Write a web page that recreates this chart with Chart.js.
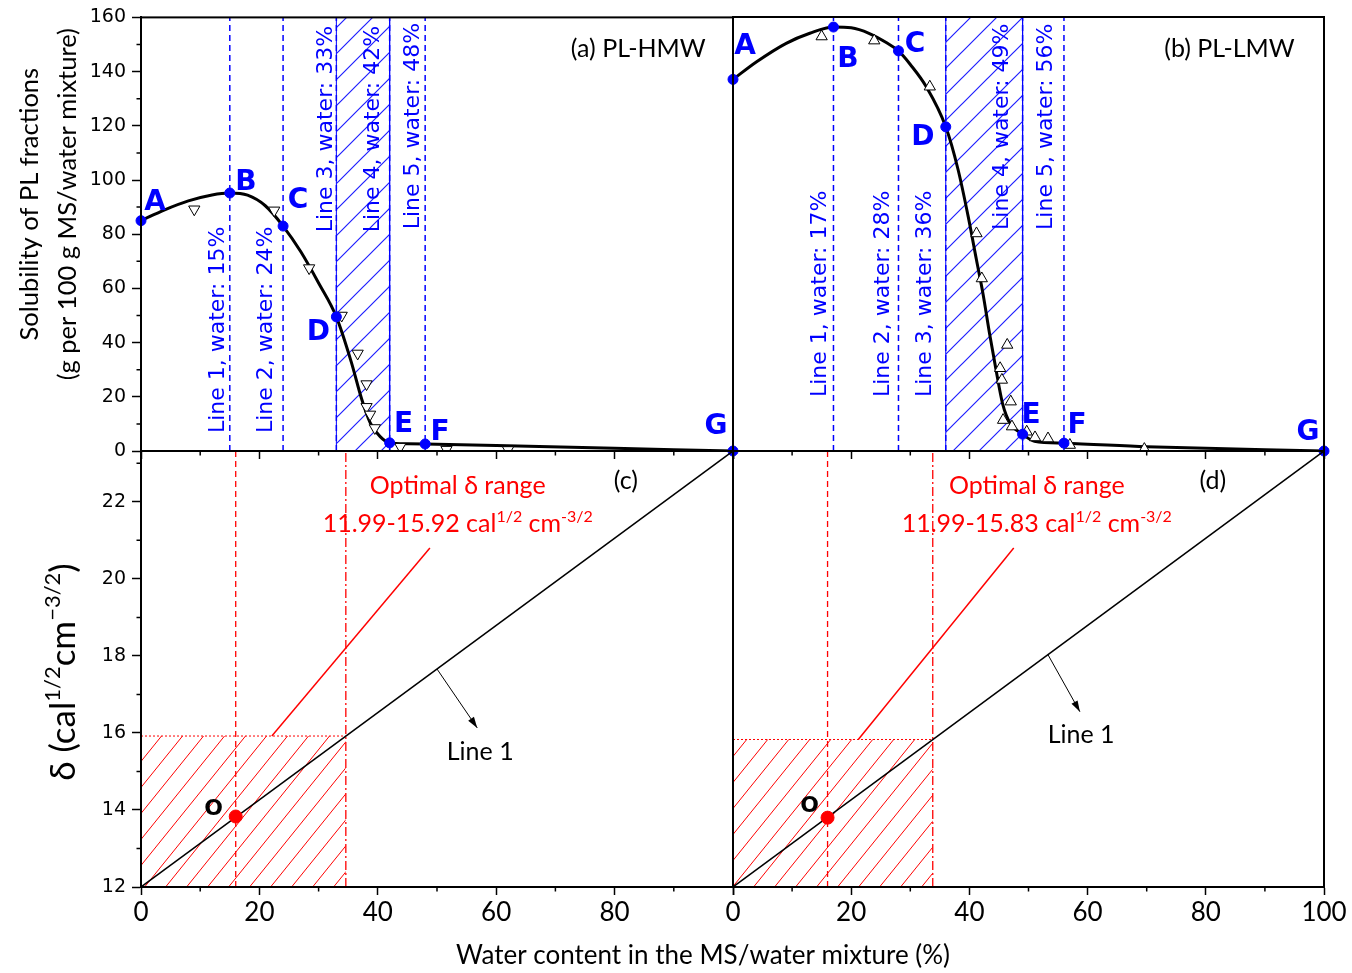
<!DOCTYPE html>
<html lang="en">
<head>
<meta charset="utf-8">
<title>Solubility of PL fractions and δ of MS/water mixtures</title>
<script src="https://cdn.jsdelivr.net/npm/chart.js@4.4.1/dist/chart.umd.min.js"></script>
<style>
  body { margin: 0; background: #fff; }
  #figure { position: relative; width: 1352px; height: 973px; }
  #figure canvas { position: absolute; left: 0; top: 0; }
</style>
</head>
<body>
<div id="figure">
  <canvas id="hmwSolubility" width="1352" height="973"></canvas>
  <canvas id="lmwSolubility" width="1352" height="973"></canvas>
  <canvas id="hmwDelta" width="1352" height="973"></canvas>
  <canvas id="lmwDelta" width="1352" height="973"></canvas>
</div>
<script>
// ---- data -------------------------------------------------------------
const waterRange = [0, 100];
const solubilityRange = [0, 160];
const deltaAxisRange = [12, 23.32];
const pointNames = ['A', 'B', 'C', 'D', 'E', 'F', 'G'];

// (a) PL-HMW
const hmwCurve = [[0, 85], [4, 89], [8, 92.3], [12, 94.5], [15, 95.2], [18, 94.4], [21, 90.5],
  [24, 83], [27, 73.5], [30, 62], [33, 49.5], [35.5, 33], [37.3, 19], [38.7, 10.5], [40.4, 5.3],
  [42, 3], [45, 2.7], [48, 2.6], [60, 2], [80, 1], [100, 0]];
const hmwMeasured = [[9, 89.2], [22.5, 88.8], [28.4, 67.5], [33.9, 50], [36.6, 36], [38.1, 24.7],
  [38.1, 16.3], [38.7, 13.5], [39.5, 8.5], [43.8, 1.6], [51.6, 0.5], [62, 0.4]];
const hmwKeyPoints = [[0, 85], [15, 95.2], [24, 83], [33, 49.5], [42, 3], [48, 2.6], [100, 0]];
const hmwLines = [15, 24, 33, 42, 48];
const hmwBand = [33, 42];

// (b) PL-LMW
const lmwCurve = [[0, 137], [4, 143.5], [9, 150.3], [13, 154], [17, 156.3], [20, 156], [23, 154],
  [26, 150.5], [28, 147.5], [30, 142.5], [32.7, 134.3], [36, 119.5], [38.1, 103.6], [39.8, 86.4],
  [41.2, 70.4], [42.3, 58], [43.4, 43.4], [44.5, 30], [45.6, 17.6], [46.9, 10.2], [49, 6.2],
  [51, 3.6], [56, 2.9], [70, 1.6], [100, 0]];
const lmwMeasured = [[15, 152.8], [23.9, 151.3], [33.3, 134.3], [41.2, 80.2], [42.1, 63.6],
  [46.4, 39.1], [45.2, 30.5], [45.5, 26.2], [47, 18.2], [45.7, 11.4], [47.2, 9], [49.7, 7.1],
  [51.1, 5], [53.3, 4.6], [57, 2.2], [69.6, 0.7]];
const lmwKeyPoints = [[0, 137], [17, 156.3], [28, 147.5], [36, 119.5], [49, 6.2], [56, 2.9], [100, 0]];
const lmwLines = [17, 28, 36, 49, 56];
const lmwBand = [36, 49];

// (c), (d) solubility parameter of the MS/water mixture
const deltaLine = [[0, 12], [100, 23.32]];
const hmwDeltaRange = [11.99, 15.92];
const lmwDeltaRange = [11.99, 15.83];
const hmwRangeEdge = 34.6;
const lmwRangeEdge = 33.8;
const hmwOptimum = [16, 13.83];
const lmwOptimum = [16, 13.8];
const hmwLeader = [[22.1, 15.92], [48.8, 20.8]];
const lmwLeader = [[21.2, 15.83], [47.5, 20.8]];
const hmwArrow = [[50, 17.66], [56.8, 16.13]];
const lmwArrow = [[53.3, 18.03], [58.7, 16.55]];

// ---- styling ----------------------------------------------------------
const BLUE = '#0000ff';
const RED = '#ff0000';
const BLACK = '#000000';
Chart.defaults.font.family = 'Lato';
Chart.defaults.color = BLACK;

const pts = pairs => pairs.map(p => ({ x: p[0], y: p[1] }));

// diagonal hatch tile, lines run lower-left to upper-right
function hatch(color, w, h, lw) {
  const c = document.createElement('canvas');
  c.width = w; c.height = h;
  const g = c.getContext('2d');
  g.strokeStyle = color;
  g.lineWidth = lw;
  g.beginPath();
  for (const dx of [-w, 0, w]) {
    g.moveTo(dx - w, 2 * h);
    g.lineTo(dx + 2 * w, -h);
  }
  g.stroke();
  return g.createPattern(c, 'repeat');
}

// text with superscript pieces; parts = [[text, isSup], ...], centred on (cx, cy)
function richText(ctx, parts, cx, cy, size, color, vertical) {
  const sup = Math.round(size * 0.62);
  ctx.save();
  ctx.translate(cx, cy);
  if (vertical) ctx.rotate(-Math.PI / 2);
  ctx.fillStyle = color;
  ctx.textAlign = 'left';
  ctx.textBaseline = 'alphabetic';
  const widths = parts.map(([t, s]) => {
    ctx.font = (s ? sup : size) + 'px Lato';
    return ctx.measureText(t).width;
  });
  let x = -widths.reduce((a, b) => a + b, 0) / 2;
  const base = size * 0.36;
  parts.forEach(([t, s], i) => {
    ctx.font = (s ? sup : size) + 'px Lato';
    ctx.fillText(t, x, s ? base - size * 0.42 : base);
    x += widths[i];
  });
  ctx.restore();
}

function plainText(ctx, text, x, y, font, color, align) {
  ctx.save();
  ctx.font = font;
  ctx.fillStyle = color;
  ctx.textAlign = align || 'center';
  ctx.textBaseline = 'middle';
  ctx.fillText(text, x, y);
  ctx.restore();
}

function frameAndMinorTicks(chart, yMinor, showY) {
  const { ctx, chartArea: a, scales: { x, y } } = chart;
  ctx.save();
  ctx.strokeStyle = BLACK;
  ctx.lineWidth = 1.5;
  ctx.beginPath();
  for (let v = x.min + 10; v < x.max; v += 20) {
    const px = x.getPixelForValue(v);
    ctx.moveTo(px, a.bottom);
    ctx.lineTo(px, a.bottom + 4.5);
  }
  if (showY) {
    for (let v = y.min + yMinor; v < y.max; v += 2 * yMinor) {
      const py = y.getPixelForValue(v);
      ctx.moveTo(a.left, py);
      ctx.lineTo(a.left - 4.5, py);
    }
  }
  ctx.stroke();
  ctx.lineWidth = 2;
  ctx.strokeRect(a.left, a.top, a.right - a.left, a.bottom - a.top);
  ctx.restore();
}

function xAxis(showLabels, hide100) {
  return {
    type: 'linear', position: 'bottom', min: waterRange[0], max: waterRange[1],
    ticks: {
      display: showLabels, stepSize: 20, maxRotation: 0, autoSkip: false, padding: 2,
      font: { family: 'Lato', size: 26 }, color: BLACK,
      callback: v => (hide100 && v === 100 ? '' : v)
    },
    grid: { drawOnChartArea: false, tickLength: 8, tickWidth: 1.5, tickColor: BLACK },
    border: { color: BLACK, width: 2 },
    afterFit: s => { s.height = showLabels ? 60 : 10; }
  };
}

function yAxis(show, range, step) {
  return {
    type: 'linear', display: show, min: range[0], max: range[1],
    ticks: {
      stepSize: step, includeBounds: false, padding: 6,
      font: { family: 'DejaVu Sans', size: 19 }, color: BLACK
    },
    grid: { drawOnChartArea: false, tickLength: 9, tickWidth: 1.5, tickColor: BLACK },
    border: { color: BLACK, width: 2 },
    afterFit: s => { s.width = show ? 61 : 0; }
  };
}

const baseOptions = {
  responsive: false, animation: false, events: [],
  plugins: { legend: { display: false }, tooltip: { enabled: false } }
};

// ---- solubility panels ------------------------------------------------
function solubilityPanel(id, s) {
  const top = solubilityRange[1];
  const datasets = [
    { data: pts(s.keyPoints), pointRadius: 5, pointBackgroundColor: BLUE, pointBorderColor: BLUE,
      showLine: false, clip: 8, order: 0 },
    { data: pts(s.measured), pointStyle: 'triangle', pointRotation: s.rotation, pointRadius: 6.5,
      pointBackgroundColor: '#ffffff', pointBorderColor: BLACK, pointBorderWidth: 1,
      showLine: false, order: 1 },
    { data: pts(s.curve), showLine: true, borderColor: BLACK, borderWidth: 3, pointRadius: 0,
      cubicInterpolationMode: 'monotone', order: 2 },
    { data: pts([[s.band[0], 0], [s.band[0], top], [s.band[1], top], [s.band[1], 0]]),
      showLine: true, fill: 'origin', backgroundColor: hatch('#1f1fff', 26, 26, 1.2),
      borderColor: BLUE, borderWidth: 1, pointRadius: 0, order: 4 }
  ];
  s.lines.forEach(v => datasets.push({
    data: pts([[v, 0], [v, top]]), showLine: true, borderColor: BLUE, borderWidth: 1.5,
    borderDash: [6, 4], pointRadius: 0, order: 3
  }));

  const notes = {
    id: 'solubilityNotes',
    afterDatasetsDraw(chart) {
      const { ctx, scales: { x, y } } = chart;
      // rotated line captions
      ctx.save();
      ctx.font = '22px "DejaVu Sans"';
      ctx.fillStyle = BLUE;
      s.lines.forEach((v, i) => {
        ctx.save();
        ctx.translate(x.getPixelForValue(v) + s.captionDx[i], y.getPixelForValue(s.captionStart[i]));
        ctx.rotate(-Math.PI / 2);
        ctx.textAlign = 'left';
        ctx.textBaseline = 'middle';
        ctx.fillText(`Line ${i + 1}, water: ${v}%`, 0, 0);
        ctx.restore();
      });
      // point letters
      ctx.font = 'bold 28px "DejaVu Sans"';
      ctx.textAlign = 'center';
      ctx.textBaseline = 'alphabetic';
      s.keyPoints.forEach((p, i) => {
        ctx.fillText(pointNames[i], x.getPixelForValue(p[0]) + s.letterOffsets[i][0],
          y.getPixelForValue(p[1]) + s.letterOffsets[i][1] + 10);
      });
      ctx.restore();
      plainText(ctx, s.title, x.getPixelForValue(84), y.getPixelForValue(148.2), '25px Lato', BLACK);
    },
    afterDraw(chart) {
      frameAndMinorTicks(chart, 10, s.showY);
      if (s.showY) {
        const { ctx, chartArea: a } = chart;
        const cy = (a.top + a.bottom) / 2 - 30;
        ctx.save();
        ctx.translate(a.left - 111, cy);
        ctx.rotate(-Math.PI / 2);
        plainText(ctx, 'Solubility of PL fractions', 0, 0, '25.5px Lato', BLACK);
        plainText(ctx, '(g per 100 g MS/water mixture)', 0, 38, '25.5px Lato', BLACK);
        ctx.restore();
      }
    }
  };

  return new Chart(document.getElementById(id), {
    type: 'scatter',
    data: { datasets },
    options: Object.assign({}, baseOptions, {
      layout: { padding: s.padding },
      scales: { x: xAxis(false), y: yAxis(s.showY, solubilityRange, 20) }
    }),
    plugins: [notes]
  });
}

solubilityPanel('hmwSolubility', {
  curve: hmwCurve, measured: hmwMeasured, keyPoints: hmwKeyPoints, lines: hmwLines, band: hmwBand,
  rotation: 180, showY: true, title: '(a) PL-HMW',
  padding: { left: 80, right: 619, top: 17, bottom: 512 },
  captionDx: [-12, -17, -10, -16, -12],
  captionStart: [6.6, 6.6, 80.7, 80.7, 81.8],
  letterOffsets: [[14, -21], [16, -13], [15, -28], [-18, 13], [14, -21], [15, -14], [-17, -27]]
});

solubilityPanel('lmwSolubility', {
  curve: lmwCurve, measured: lmwMeasured, keyPoints: lmwKeyPoints, lines: lmwLines, band: lmwBand,
  rotation: 0, showY: false, title: '(b) PL-LMW',
  padding: { left: 733, right: 28, top: 17, bottom: 512 },
  captionDx: [-13.5, -15.5, -20, -20, -18],
  captionStart: [19.9, 19.9, 19.9, 81.5, 81.5],
  letterOffsets: [[12, -35], [14.5, 30], [16.5, -9], [-23, 8], [8.5, -21], [13, -20], [-16, -21]]
});

// ---- δ panels ---------------------------------------------------------
function deltaPanel(id, s) {
  const [yLow, yHigh] = deltaAxisRange;
  const datasets = [
    { data: pts([s.optimum]), pointRadius: 6.5, pointBackgroundColor: RED, pointBorderColor: RED,
      showLine: false, clip: 8, order: 0 },
    { data: pts(deltaLine), showLine: true, borderColor: BLACK, borderWidth: 1.5, pointRadius: 0, order: 1 },
    { data: pts(s.arrow), showLine: true, borderColor: BLACK, borderWidth: 1, pointRadius: 0, order: 1 },
    { data: pts(s.leader), showLine: true, borderColor: RED, borderWidth: 1.5, pointRadius: 0, order: 2 },
    { data: pts([[s.optimum[0], yLow], [s.optimum[0], yHigh]]), showLine: true, borderColor: RED,
      borderWidth: 1.3, borderDash: [6, 4], pointRadius: 0, order: 2 },
    { data: pts([[s.edge, yLow], [s.edge, yHigh]]), showLine: true, borderColor: RED,
      borderWidth: 1.3, borderDash: [9, 3, 2, 3], pointRadius: 0, order: 2 },
    { data: pts([[0, s.range[1]], [s.edge, s.range[1]]]), showLine: true, fill: 'start',
      backgroundColor: hatch(RED, 21, 26, 1), borderColor: RED, borderWidth: 1, borderDash: [2, 2],
      pointRadius: 0, order: 3 }
  ];

  const notes = {
    id: 'deltaNotes',
    afterDatasetsDraw(chart) {
      const { ctx, scales: { x, y } } = chart;
      // arrow head on the Line 1 pointer
      const p0 = { x: x.getPixelForValue(s.arrow[0][0]), y: y.getPixelForValue(s.arrow[0][1]) };
      const p1 = { x: x.getPixelForValue(s.arrow[1][0]), y: y.getPixelForValue(s.arrow[1][1]) };
      const ang = Math.atan2(p1.y - p0.y, p1.x - p0.x);
      const len = 11, half = 3.5;
      ctx.save();
      ctx.fillStyle = BLACK;
      ctx.beginPath();
      ctx.moveTo(p1.x, p1.y);
      ctx.lineTo(p1.x - len * Math.cos(ang) + half * Math.sin(ang), p1.y - len * Math.sin(ang) - half * Math.cos(ang));
      ctx.lineTo(p1.x - len * Math.cos(ang) - half * Math.sin(ang), p1.y - len * Math.sin(ang) + half * Math.cos(ang));
      ctx.closePath();
      ctx.fill();
      ctx.restore();

      const tx = x.getPixelForValue(s.textX);
      plainText(ctx, 'Optimal δ range', tx, y.getPixelForValue(22.42), '25px Lato', RED);
      richText(ctx, [[`${s.range[0].toFixed(2)}-${s.range[1].toFixed(2)} cal`, 0], ['1/2', 1], [' cm', 0], ['-3/2', 1]],
        tx, y.getPixelForValue(21.45), 25, RED, false);
      plainText(ctx, s.tag, x.getPixelForValue(s.tagX), y.getPixelForValue(22.55), '25px Lato', BLACK);
      plainText(ctx, 'Line 1', x.getPixelForValue(s.lineLabel[0]), y.getPixelForValue(s.lineLabel[1]), '25px Lato', BLACK);
      plainText(ctx, 'O', x.getPixelForValue(s.optimum[0]) + s.oOffset[0], y.getPixelForValue(s.optimum[1]) + s.oOffset[1],
        'bold 22px "DejaVu Sans"', BLACK);
    },
    afterDraw(chart) {
      frameAndMinorTicks(chart, 1, s.showY);
      if (s.showY) {
        const { ctx, chartArea: a } = chart;
        richText(ctx, [['δ (cal', 0], ['1/2', 1], ['cm', 0], ['−3/2', 1], [')', 0]],
          a.left - 79, (a.top + a.bottom) / 2 + 3, 35, BLACK, true);
        plainText(ctx, 'Water content in the MS/water mixture (%)', a.right - 30, a.bottom + 69, '26px Lato', BLACK);
      }
    }
  };

  return new Chart(document.getElementById(id), {
    type: 'scatter',
    data: { datasets },
    options: Object.assign({}, baseOptions, {
      layout: { padding: s.padding },
      scales: { x: xAxis(true, s.showY), y: yAxis(s.showY, deltaAxisRange, 2) }
    }),
    plugins: [notes]
  });
}

deltaPanel('hmwDelta', {
  range: hmwDeltaRange, edge: hmwRangeEdge, optimum: hmwOptimum, leader: hmwLeader, arrow: hmwArrow,
  showY: true, tag: '(c)', tagX: 81.9, textX: 53.5, lineLabel: [57.3, 15.5], oOffset: [-22, -7],
  padding: { left: 80, right: 619, top: 451, bottom: 26 }
});

deltaPanel('lmwDelta', {
  range: lmwDeltaRange, edge: lmwRangeEdge, optimum: lmwOptimum, leader: lmwLeader, arrow: lmwArrow,
  showY: false, tag: '(d)', tagX: 81.2, textX: 51.4, lineLabel: [58.9, 15.95], oOffset: [-18, -11],
  padding: { left: 733, right: 28, top: 451, bottom: 26 }
});
</script>
</body>
</html>
